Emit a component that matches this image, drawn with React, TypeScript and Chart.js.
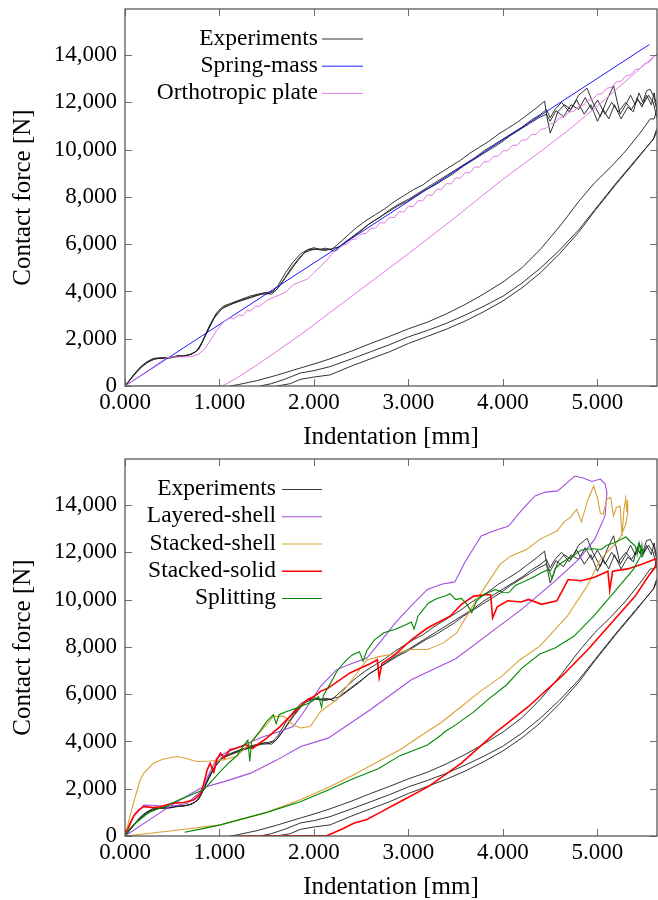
import React, { useEffect, useRef } from "react";
import { Chart, registerables } from "chart.js";
Chart.register(...registerables);

type Pt = [number, number];

// ---------- axes / ticks ----------
const xTickValues = [0, 1, 2, 3, 4, 5];
const xTickLabels = ["0.000", "1.000", "2.000", "3.000", "4.000", "5.000"];
const yTickValues = [0, 2000, 4000, 6000, 8000, 10000, 12000, 14000];
const yTickLabels = ["0", "2,000", "4,000", "6,000", "8,000", "10,000", "12,000", "14,000"];
const xMin = 0;
const xMax = 5.63;
const yMin = 0;
const yMax = 15950;
const xTitle = "Indentation [mm]";
const yTitle = "Contact force [N]";

const topLegendLabels = ["Experiments", "Spring-mass", "Orthotropic plate"];
const bottomLegendLabels = ["Experiments", "Layered-shell", "Stacked-shell", "Stacked-solid", "Splitting"];

// ---------- experiments (3 loops) ----------
const exp1Load: Pt[] = [
  [0, 0], [0.08, 420], [0.16, 800], [0.22, 1000], [0.3, 1170], [0.4, 1200], [0.5, 1210], [0.56, 1300], [0.62, 1260],
  [0.7, 1350], [0.76, 1480], [0.82, 1900], [0.9, 2600], [0.97, 3100], [1.04, 3380], [1.12, 3500], [1.22, 3650],
  [1.32, 3800], [1.42, 3900], [1.5, 3950], [1.56, 4000], [1.62, 4250], [1.7, 4800], [1.78, 5250], [1.86, 5600],
  [1.94, 5780], [2.0, 5850], [2.06, 5780], [2.12, 5830], [2.18, 5760], [2.24, 5950], [2.35, 6350], [2.45, 6700],
  [2.55, 7000], [2.65, 7250], [2.75, 7500], [2.85, 7800], [2.95, 8050], [3.05, 8300], [3.15, 8500], [3.25, 8800],
  [3.35, 9050], [3.45, 9300], [3.55, 9550], [3.65, 9850], [3.75, 10100], [3.85, 10350], [3.95, 10650], [4.05, 10900],
  [4.15, 11150], [4.25, 11450], [4.35, 11750], [4.44, 12050], [4.47, 11300], [4.5, 10700], [4.53, 11000], [4.58, 11600],
  [4.65, 11900], [4.72, 11700], [4.8, 12300], [4.89, 12600], [4.95, 12000], [5.03, 11400], [5.1, 12100], [5.17, 12700],
  [5.24, 11500], [5.3, 11900], [5.35, 12300], [5.4, 11900], [5.44, 12400], [5.48, 12000], [5.52, 12500], [5.56, 12550],
  [5.6, 12200], [5.63, 11700], [5.6, 11300],
];
const exp1Unload: Pt[] = [
  [5.56, 11300], [5.45, 10700], [5.3, 9950], [5.15, 9300], [4.97, 8600], [4.8, 7800], [4.62, 6850], [4.4, 5800],
  [4.2, 5000], [4.0, 4400], [3.8, 3900], [3.6, 3450], [3.4, 3050], [3.2, 2700], [3.0, 2420], [2.8, 2100], [2.6, 1800],
  [2.4, 1480], [2.17, 1150], [2.0, 930], [1.855, 760], [1.6, 450], [1.4, 230], [1.2, 60], [1.11, 0],
];
const exp2Load: Pt[] = [
  [0, 0], [0.08, 380], [0.16, 750], [0.24, 1000], [0.32, 1150], [0.42, 1180], [0.5, 1230], [0.58, 1250], [0.66, 1300],
  [0.74, 1420], [0.8, 1700], [0.88, 2400], [0.96, 3000], [1.04, 3330], [1.14, 3480], [1.24, 3620], [1.34, 3750],
  [1.44, 3880], [1.52, 3900], [1.6, 4050], [1.68, 4500], [1.76, 5000], [1.85, 5450], [1.93, 5750], [2.0, 5800],
  [2.08, 5750], [2.16, 5800], [2.22, 5700], [2.3, 6000], [2.4, 6300], [2.5, 6600], [2.6, 6900], [2.7, 7150], [2.8, 7450],
  [2.9, 7700], [3.0, 7900], [3.1, 8150], [3.2, 8400], [3.3, 8650], [3.4, 8900], [3.5, 9150], [3.6, 9400], [3.7, 9650],
  [3.8, 9950], [3.9, 10200], [4.0, 10450], [4.1, 10700], [4.2, 10950], [4.3, 11250], [4.4, 11500], [4.46, 11700],
  [4.5, 11350], [4.55, 11700], [4.62, 12000], [4.7, 11600], [4.78, 12100], [4.86, 11500], [4.93, 11900], [5.0, 11200],
  [5.06, 11700], [5.12, 11300], [5.18, 11900], [5.25, 11300], [5.32, 11800], [5.38, 11600], [5.42, 12200], [5.47, 11800],
  [5.52, 12300], [5.57, 11900], [5.6, 12400], [5.63, 11600], [5.65, 11000],
];
const exp2Unload: Pt[] = [
  [5.62, 10800], [5.59, 10430], [5.4, 9550], [5.2, 8600], [4.97, 7450], [4.8, 6600], [4.6, 5750], [4.4, 5000],
  [4.2, 4350], [4.0, 3800], [3.8, 3380], [3.6, 3000], [3.4, 2650], [3.2, 2350], [3.0, 2080], [2.8, 1750],
  [2.6, 1450], [2.4, 1150], [2.17, 820], [2.0, 650], [1.855, 550], [1.7, 300], [1.55, 100], [1.43, 0],
];
const exp3Load: Pt[] = [
  [0, 0], [0.1, 500], [0.2, 900], [0.28, 1100], [0.36, 1180], [0.46, 1170], [0.54, 1240], [0.62, 1280], [0.7, 1330],
  [0.78, 1550], [0.86, 2200], [0.94, 2850], [1.02, 3250], [1.1, 3420], [1.2, 3600], [1.3, 3720], [1.4, 3850],
  [1.48, 3950], [1.55, 3880], [1.62, 4150], [1.72, 4700], [1.8, 5150], [1.9, 5650], [1.98, 5760], [2.05, 5800],
  [2.12, 5730], [2.2, 5820], [2.28, 5900], [2.38, 6200], [2.48, 6500], [2.58, 6850], [2.68, 7100], [2.78, 7350],
  [2.88, 7600], [2.98, 7800], [3.08, 8050], [3.18, 8300], [3.28, 8500], [3.38, 8750], [3.48, 9000], [3.58, 9300],
  [3.68, 9550], [3.78, 9800], [3.88, 10050], [3.98, 10300], [4.08, 10600], [4.18, 10850], [4.28, 11100], [4.38, 11350],
  [4.46, 11500], [4.5, 11200], [4.56, 11650], [4.64, 11400], [4.72, 11900], [4.8, 11700], [4.87, 12200], [4.94, 11700],
  [5.0, 12100], [5.08, 11500], [5.15, 12000], [5.22, 11600], [5.3, 12000], [5.36, 11700], [5.42, 12100], [5.48, 11900],
  [5.54, 12300], [5.59, 12000], [5.62, 11500], [5.65, 11000], [5.62, 10700],
];
const exp3Unload: Pt[] = [
  [5.6, 10500], [5.4, 9500], [5.2, 8550], [4.97, 7400], [4.8, 6500], [4.6, 5600], [4.4, 4800], [4.2, 4150],
  [4.0, 3600], [3.8, 3150], [3.6, 2750], [3.4, 2400], [3.2, 2100], [3.0, 1800], [2.8, 1450], [2.6, 1150], [2.4, 850],
  [2.17, 470], [2.0, 380], [1.855, 280], [1.75, 100], [1.61, 0],
];

// ---------- top models ----------
const springMass: Pt[] = [[0, 0], [5.55, 14450]];
const orthoLoad: Pt[] = [
  [0, 0], [0.1, 270], [0.2, 540], [0.3, 810], [0.444, 1200], [0.5, 1230], [0.6, 1230], [0.7, 1240], [0.78, 1350],
  [0.85, 1600], [0.9, 1900], [0.97, 2350], [1.04, 2700], [1.11, 2880], [1.15, 2840], [1.2, 3000], [1.25, 2980],
  [1.29, 3200], [1.33, 3170], [1.38, 3380], [1.42, 3370], [1.5, 3620], [1.57, 3750], [1.64, 3860], [1.71, 4000],
  [1.78, 4280], [1.85, 4400], [1.93, 4520], [2.0, 4800], [2.07, 5050], [2.1, 5200], [2.15, 5380], [2.2, 5650],
  [2.25, 5761], [2.3, 5950], [2.35, 5994], [2.4, 6198], [2.45, 6226], [2.5, 6430], [2.55, 6450], [2.6, 6670],
  [2.65, 6675], [2.7, 6905], [2.75, 6900], [2.8, 7140], [2.85, 7125], [2.9, 7375], [2.95, 7360], [3.0, 7610],
  [3.05, 7585], [3.1, 7845], [3.15, 7830], [3.2, 8090], [3.25, 8065], [3.3, 8335], [3.35, 8315], [3.4, 8565],
  [3.45, 8550], [3.5, 8810], [3.55, 8790], [3.6, 9030], [3.65, 9015], [3.7, 9265], [3.75, 9255], [3.8, 9490],
  [3.85, 9490], [3.9, 9715], [3.95, 9725], [4.0, 9950], [4.05, 9955], [4.1, 10175], [4.15, 10190], [4.2, 10400],
  [4.25, 10415], [4.3, 10635], [4.35, 10650], [4.4, 10860], [4.45, 10885], [4.5, 11090], [4.55, 11120], [4.6, 11345],
  [4.65, 11375], [4.7, 11590], [4.75, 11620], [4.8, 11845], [4.85, 11875], [4.9, 12090], [4.95, 12125], [5.0, 12345],
  [5.05, 12375], [5.1, 12600], [5.15, 12640], [5.2, 12865], [5.25, 12900], [5.3, 13120], [5.35, 13155], [5.4, 13385],
  [5.45, 13420], [5.5, 13640], [5.55, 13705], [5.6, 13940], [5.66, 14120],
];
const orthoUnload: Pt[] = [
  [5.66, 14150], [5.5, 13600], [5.3, 12900], [5.0, 11850], [4.7, 10850], [4.39, 9900], [4.0, 8750], [3.5, 7150],
  [3.0, 5600], [2.5, 4100], [2.2, 3200], [1.855, 2160], [1.6, 1450], [1.4, 900], [1.2, 380], [1.1, 150], [1.03, 0], [0, 0],
];

// ---------- bottom models ----------
const layeredShell: Pt[] = [
  [0, 0], [0.09, 820], [0.2, 1310], [0.3, 1300], [0.44, 1240], [0.56, 1300], [0.66, 1385], [0.8, 1880], [0.97, 3290],
  [1.08, 3550], [1.185, 3720], [1.33, 3980], [1.47, 4210], [1.62, 4400], [1.78, 4630], [1.9, 5300], [2.07, 6330],
  [2.24, 7040], [2.4, 7300], [2.56, 7530], [2.7, 8200], [2.86, 9020], [3.02, 9700], [3.2, 10430], [3.35, 10650],
  [3.49, 10750], [3.6, 11600], [3.77, 12690], [3.9, 12900], [4.06, 13110], [4.2, 13800], [4.34, 14390], [4.45, 14550],
  [4.58, 14600], [4.68, 14950], [4.76, 15230], [4.85, 15150], [4.94, 15000], [5.03, 15100], [5.08, 14900],
  [5.1, 14530], [5.08, 13540], [4.97, 12550], [4.8, 11700], [4.55, 10780], [4.2, 9600], [3.91, 8730], [3.5, 7500],
  [3.03, 6610], [2.6, 5350], [2.15, 4140], [1.86, 3790], [1.6, 3200], [1.33, 2660], [1.05, 2300], [0.8, 2020],
  [0.55, 1450], [0.3, 800], [0, 0],
];
const stackedShell: Pt[] = [
  [0, 0], [0.05, 800], [0.09, 1400], [0.16, 2370], [0.2, 2660], [0.3, 3080], [0.4, 3250], [0.55, 3360], [0.65, 3280],
  [0.76, 3150], [0.9, 3170], [1.04, 3220], [1.18, 3360], [1.36, 4070], [1.57, 5060], [1.68, 5060], [1.78, 4700],
  [1.86, 4570], [1.96, 4630], [2.07, 5270], [2.24, 5766], [2.4, 6600], [2.56, 7450], [2.7, 7600], [2.85, 7700],
  [3.02, 7890], [3.2, 7890], [3.37, 8170], [3.51, 8590], [3.69, 9800], [3.87, 10900], [3.97, 11500], [4.08, 11840],
  [4.25, 12120], [4.39, 12550], [4.57, 12900], [4.65, 13300], [4.71, 13470], [4.78, 13820], [4.83, 13290],
  [4.9, 14250], [4.96, 14810], [5.0, 14300], [5.03, 13660], [5.06, 13610], [5.1, 14250], [5.14, 14320], [5.17, 13540],
  [5.2, 13900], [5.24, 13960], [5.26, 12690], [5.28, 13800], [5.3, 14300], [5.31, 13700], [5.32, 14200], [5.32, 13640],
  [5.3, 13200], [5.25, 12700], [5.2, 12410], [5.03, 11700], [4.89, 10570], [4.68, 9300], [4.39, 8030], [4.18, 7460],
  [3.985, 6755], [3.76, 6120], [3.56, 5480], [3.34, 4780], [3.21, 4450], [2.91, 3650], [2.68, 3150], [2.4, 2550],
  [2.15, 2050], [1.855, 1530], [1.5, 1000], [1.01, 470], [0.5, 220], [0, 0],
];
const stackedSolid: Pt[] = [
  [0, 0], [0.05, 500], [0.1, 900], [0.144, 1100], [0.2, 1250], [0.3, 1200], [0.37, 1240], [0.51, 1390], [0.62, 1420],
  [0.73, 1530], [0.8, 1800], [0.83, 2160], [0.87, 2800], [0.9, 3080], [0.94, 2700], [0.97, 3220], [1.01, 3500],
  [1.05, 3300], [1.11, 3650], [1.18, 3720], [1.28, 3860], [1.35, 3700], [1.4, 3860], [1.5, 4140], [1.64, 4630],
  [1.78, 5200], [1.93, 5766], [2.0, 5900], [2.07, 6120], [2.15, 6260], [2.38, 6900], [2.6, 7300], [2.67, 7460],
  [2.69, 6700], [2.72, 7300], [2.85, 7650], [3.03, 8300], [3.2, 8800], [3.44, 9300], [3.56, 9800], [3.69, 10150],
  [3.84, 10220], [3.87, 10200], [3.89, 9230], [3.94, 9700], [4.05, 9950], [4.19, 9900], [4.27, 10010], [4.41, 9800],
  [4.57, 9950], [4.69, 10850], [4.83, 10800], [4.97, 10950], [5.11, 11200], [5.13, 10400], [5.16, 11200],
  [5.32, 11300], [5.47, 11500], [5.63, 11750], [5.62, 11420], [5.54, 11000], [5.4, 10150], [5.15, 9020], [4.9, 7890],
  [4.62, 6750], [4.27, 5480], [3.915, 4350], [3.56, 3080], [3.21, 2090], [2.91, 1450], [2.7, 1000], [2.56, 700],
  [2.42, 540], [2.3, 300], [2.14, 20], [1.185, 0],
];
const splitting: Pt[] = [
  [0, 0], [0.05, 300], [0.1, 500], [0.16, 700], [0.22, 900], [0.26, 1000], [0.35, 1150], [0.44, 1250], [0.5, 1400],
  [0.585, 1550], [0.68, 1700], [0.76, 1840], [0.83, 1950], [0.9, 2250], [1.01, 2730], [1.1, 3100], [1.185, 3400],
  [1.25, 3800], [1.3, 4050], [1.32, 3150], [1.34, 4000], [1.43, 4450], [1.5, 4850], [1.57, 5130], [1.6, 4750],
  [1.63, 5130], [1.71, 5270], [1.81, 5400], [1.96, 5650], [2.05, 5900], [2.08, 5450], [2.1, 5950], [2.18, 6500],
  [2.24, 6950], [2.32, 7350], [2.4, 7650], [2.48, 7800], [2.52, 7400], [2.56, 7850], [2.64, 8300], [2.74, 8600],
  [2.86, 8750], [2.95, 8900], [3.03, 9050], [3.06, 8750], [3.1, 9300], [3.21, 9850], [3.3, 10050], [3.39, 10150],
  [3.44, 10250], [3.5, 10000], [3.56, 10050], [3.62, 9800], [3.67, 9450], [3.72, 9950], [3.78, 10150], [3.85, 10300],
  [3.92, 10430], [4.0, 10300], [4.06, 10290], [4.13, 10600], [4.2, 10720], [4.27, 10850], [4.34, 10990], [4.41, 11150],
  [4.48, 11280], [4.52, 10900], [4.55, 11300], [4.62, 11560], [4.72, 11800], [4.83, 12100], [4.94, 12150],
  [5.04, 12120], [5.1, 12300], [5.18, 12410], [5.25, 12550], [5.3, 12650], [5.35, 12450], [5.4, 12270], [5.42, 11900],
  [5.44, 12400], [5.46, 11950], [5.47, 12300], [5.48, 11850], [5.45, 11800], [5.38, 11280], [5.17, 10290],
  [4.96, 9300], [4.75, 8450], [4.55, 7950], [4.39, 7700], [4.2, 7100], [4.04, 6400], [3.85, 5800], [3.69, 5250],
  [3.5, 4700], [3.38, 4400], [3.34, 4250], [3.2, 3850], [2.91, 3400], [2.68, 2850], [2.4, 2400], [2.15, 1950],
  [1.855, 1450], [1.5, 1000], [1.01, 470], [0.8, 290], [0.63, 160],
];

// ---------- styling ----------
const FONT = "'Liberation Serif', 'Times New Roman', serif";
const FS = 23;
const FS_TITLE = 25;
const FS_LEGEND = 23.5;
const BLACK = "#1c1c1c";
const BLUE = "#0000ff";
const PINK = "#e07be0";
const PURPLE = "#a24de0";
const ORANGE = "#dba136";
const RED = "#ff0000";
const GREEN = "#008800";

const toXY = (pts: Pt[]) => pts.map(([x, y]) => ({ x, y }));

function ds(pts: Pt[], color: string, width: number, order: number) {
  return {
    data: toXY(pts),
    borderColor: color,
    backgroundColor: color,
    borderWidth: width,
    pointRadius: 0,
    fill: false,
    tension: 0,
    clip: 0,
    order,
  };
}

type LegendSpec = { labels: string[]; colors: string[]; widths: number[]; textRight: number; x0: number; x1: number; y0: number; dy: number };

function makeChart(canvas: HTMLCanvasElement, datasets: any[], legend: LegendSpec) {
  const frame = {
    id: "frame",
    afterDatasetsDraw(chart: any) {
      const { ctx, chartArea: a, scales } = chart;
      ctx.save();
      ctx.strokeStyle = "#6e6e6e";
      ctx.lineWidth = 1;
      const tl = 7;
      ctx.beginPath();
      for (const v of xTickValues) {
        const px = Math.round(scales.x.getPixelForValue(v)) + 0.5;
        ctx.moveTo(px, a.bottom); ctx.lineTo(px, a.bottom - tl);
        ctx.moveTo(px, a.top); ctx.lineTo(px, a.top + tl);
      }
      for (const v of yTickValues) {
        const py = Math.round(scales.y.getPixelForValue(v)) + 0.5;
        ctx.moveTo(a.left, py); ctx.lineTo(a.left + tl, py);
        ctx.moveTo(a.right, py); ctx.lineTo(a.right - tl, py);
      }
      ctx.stroke();
      ctx.lineWidth = 1.3;
      ctx.strokeStyle = "#5a5a5a";
      ctx.strokeRect(a.left, a.top, a.right - a.left, a.bottom - a.top);
      // legend
      ctx.font = `${FS_LEGEND}px ${FONT}`;
      ctx.textAlign = "right";
      ctx.textBaseline = "middle";
      legend.labels.forEach((lab, i) => {
        const y = legend.y0 + i * legend.dy;
        ctx.fillStyle = "#000";
        ctx.fillText(lab, legend.textRight, y);
        ctx.strokeStyle = legend.colors[i];
        ctx.lineWidth = legend.widths[i];
        ctx.beginPath();
        ctx.moveTo(legend.x0, y + 0.5);
        ctx.lineTo(legend.x1, y + 0.5);
        ctx.stroke();
      });
      ctx.restore();
    },
  };

  const font = { family: FONT, size: FS };
  const titleFont = { family: FONT, size: FS_TITLE, lineHeight: 1 };
  return new Chart(canvas, {
    type: "line",
    data: { datasets },
    options: {
      animation: false,
      responsive: false,
      maintainAspectRatio: false,
      layout: { padding: { top: 9, right: 1, left: 0, bottom: 0 } },
      plugins: { legend: { display: false }, tooltip: { enabled: false } },
      scales: {
        x: {
          type: "linear",
          min: xMin,
          max: xMax,
          afterBuildTicks: (s: any) => { s.ticks = xTickValues.map((value) => ({ value })); },
          afterFit: (s: any) => { s.height = 64; s.paddingLeft = 0; s.paddingRight = 0; },
          grid: { display: false, drawTicks: false },
          border: { display: false },
          ticks: {
            autoSkip: false, maxRotation: 0, minRotation: 0,
            padding: 3, font, color: "#000",
            callback: (_v: any, i: number) => xTickLabels[i] ?? "",
          },
          title: { display: true, text: xTitle, font: titleFont, color: "#000", padding: { top: 0, bottom: 0.5 } },
        },
        y: {
          type: "linear",
          min: yMin,
          max: yMax,
          afterBuildTicks: (s: any) => { s.ticks = yTickValues.map((value) => ({ value })); },
          afterFit: (s: any) => { s.width = 125; s.paddingTop = 0; s.paddingBottom = 0; },
          grid: { display: false, drawTicks: false },
          border: { display: false },
          ticks: {
            autoSkip: false, padding: 8, font, color: "#000",
            callback: (_v: any, i: number) => yTickLabels[i] ?? "",
          },
          title: { display: true, text: yTitle, font: titleFont, color: "#000", padding: { top: 11, bottom: 0 } },
        },
      },
    } as any,
    plugins: [frame],
  });
}

export default function App() {
  const ref1 = useRef<HTMLCanvasElement>(null);
  const ref2 = useRef<HTMLCanvasElement>(null);

  useEffect(() => {
    const exp1 = [...exp1Load, ...exp1Unload];
    const exp2 = [...exp2Load, ...exp2Unload];
    const exp3 = [...exp3Load, ...exp3Unload];

    const topSets = [
      ds(exp1, BLACK, 0.9, 9),
      ds(exp2, BLACK, 0.9, 8),
      ds(exp3, BLACK, 0.9, 7),
      ds(springMass, BLUE, 0.9, 6),
      ds([...orthoLoad, ...orthoUnload], PINK, 1, 5),
    ];
    const bottomSets = [
      ds(exp1, BLACK, 0.9, 9),
      ds(exp2, BLACK, 0.9, 8),
      ds(exp3, BLACK, 0.9, 7),
      ds(layeredShell, PURPLE, 1.1, 6),
      ds(stackedShell, ORANGE, 1.1, 5),
      ds(stackedSolid, RED, 1.6, 4),
      ds(splitting, GREEN, 1.1, 3),
    ];

    const c1 = makeChart(ref1.current!, topSets, {
      labels: topLegendLabels, colors: [BLACK, BLUE, PINK], widths: [0.9, 0.9, 1],
      textRight: 318, x0: 322, x1: 363, y0: 38.5, dy: 27.2,
    });
    const c2 = makeChart(ref2.current!, bottomSets, {
      labels: bottomLegendLabels, colors: [BLACK, PURPLE, ORANGE, RED, GREEN], widths: [0.9, 1.1, 1.1, 1.6, 1.1],
      textRight: 276, x0: 282, x1: 322, y0: 39, dy: 27.25,
    });
    return () => { c1.destroy(); c2.destroy(); };
  }, []);

  return (
    <div style={{ position: "absolute", left: 0, top: 0, width: 658, height: 900, background: "#fff" }}>
      <canvas ref={ref1} width={658} height={450} style={{ display: "block", width: 658, height: 450 }} />
      <canvas ref={ref2} width={658} height={450} style={{ display: "block", width: 658, height: 450 }} />
    </div>
  );
}
